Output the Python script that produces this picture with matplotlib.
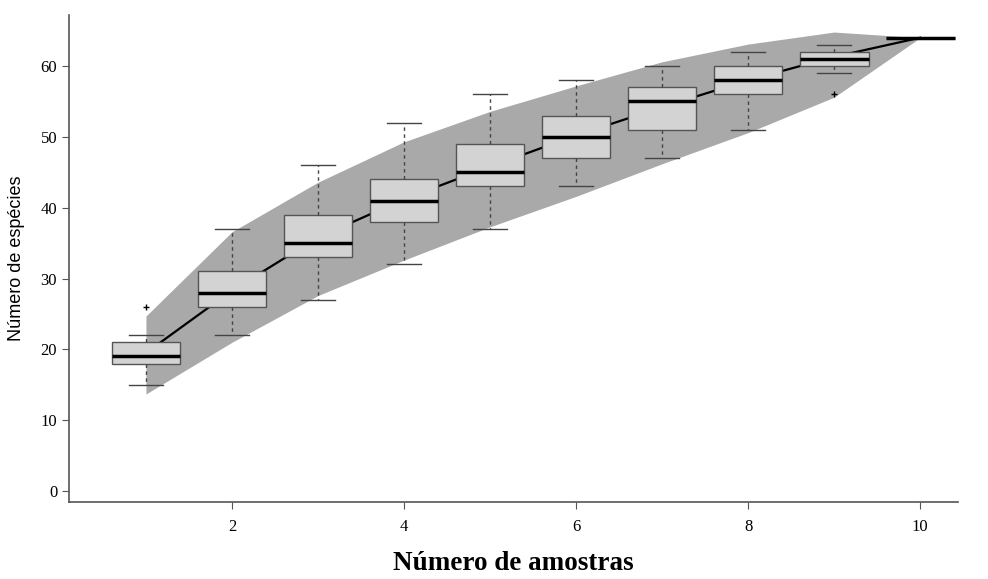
import numpy as np
import matplotlib.pyplot as plt

# amostras (1..10) e estatísticas das caixas
amostras = [1, 2, 3, 4, 5, 6, 7, 8, 9, 10]
q1 = [18, 26, 33, 38, 43, 47, 51, 56, 60, 64]
mediana = [19, 28, 35, 41, 45, 50, 55, 58, 61, 64]
q3 = [21, 31, 39, 44, 49, 53, 57, 60, 62, 64]
whis_lo = [15, 22, 27, 32, 37, 43, 47, 51, 59, 64]
whis_hi = [22, 37, 46, 52, 56, 58, 60, 62, 63, 64]
outliers = [[26], [], [], [], [], [], [], [], [56], []]

# curva média e faixa cinza
media = [19.5, 28.3, 35.8, 41.2, 45.8, 50.2, 54.2, 58.0, 61.3, 64.0]
faixa_sup = [24.7, 36.6, 43.6, 49.3, 53.6, 57.2, 60.6, 63.1, 64.8, 64.0]
faixa_inf = [13.7, 21.0, 27.6, 32.6, 37.3, 41.6, 46.2, 50.6, 55.6, 64.0]

plt.rcParams['font.family'] = ['Liberation Serif', 'DejaVu Serif']

fig = plt.figure(figsize=(9.88, 5.79), dpi=100)
ax = fig.add_axes([0.0698, 0.133, 0.8998, 0.841])

ax.fill_between(amostras, faixa_inf, faixa_sup, color='#a9a9a9', lw=0, zorder=1)
ax.plot(amostras, media, color='black', lw=1.6, zorder=2)

stats = []
for i in range(len(amostras)):
    stats.append(dict(med=mediana[i], q1=q1[i], q3=q3[i],
                      whislo=whis_lo[i], whishi=whis_hi[i], fliers=outliers[i]))

ax.bxp(stats, positions=amostras, widths=0.8, patch_artist=True,
       manage_ticks=False, zorder=3,
       boxprops=dict(facecolor='#d3d3d3', edgecolor='#555555', lw=1),
       medianprops=dict(color='black', lw=2.5),
       whiskerprops=dict(color='#444444', lw=1, linestyle=(0, (2.5, 2.5))),
       capprops=dict(color='#444444', lw=1),
       capwidths=0.4,
       flierprops=dict(marker='+', markersize=5, markeredgecolor='black', mew=1))

ax.set_xlim(0.105, 10.44)
ax.set_ylim(-1.55, 67.2)
ax.set_xticks([2, 4, 6, 8, 10])
ax.set_yticks([0, 10, 20, 30, 40, 50, 60])

for s in ['top', 'right']:
    ax.spines[s].set_visible(False)
for s in ['left', 'bottom']:
    ax.spines[s].set_color('#555555')
    ax.spines[s].set_linewidth(1.2)
ax.tick_params(direction='out', length=5, color='#555555', labelsize=12)
ax.tick_params(axis='x', pad=7)

ax.set_ylabel('Número de espécies', family=['Liberation Sans', 'DejaVu Sans'], fontsize=13)
ax.yaxis.set_label_coords(-0.049, 0.5)
ax.set_xlabel('Número de amostras', fontsize=19.5, fontweight='bold', labelpad=12)

fig.savefig('out.png', dpi=100)
